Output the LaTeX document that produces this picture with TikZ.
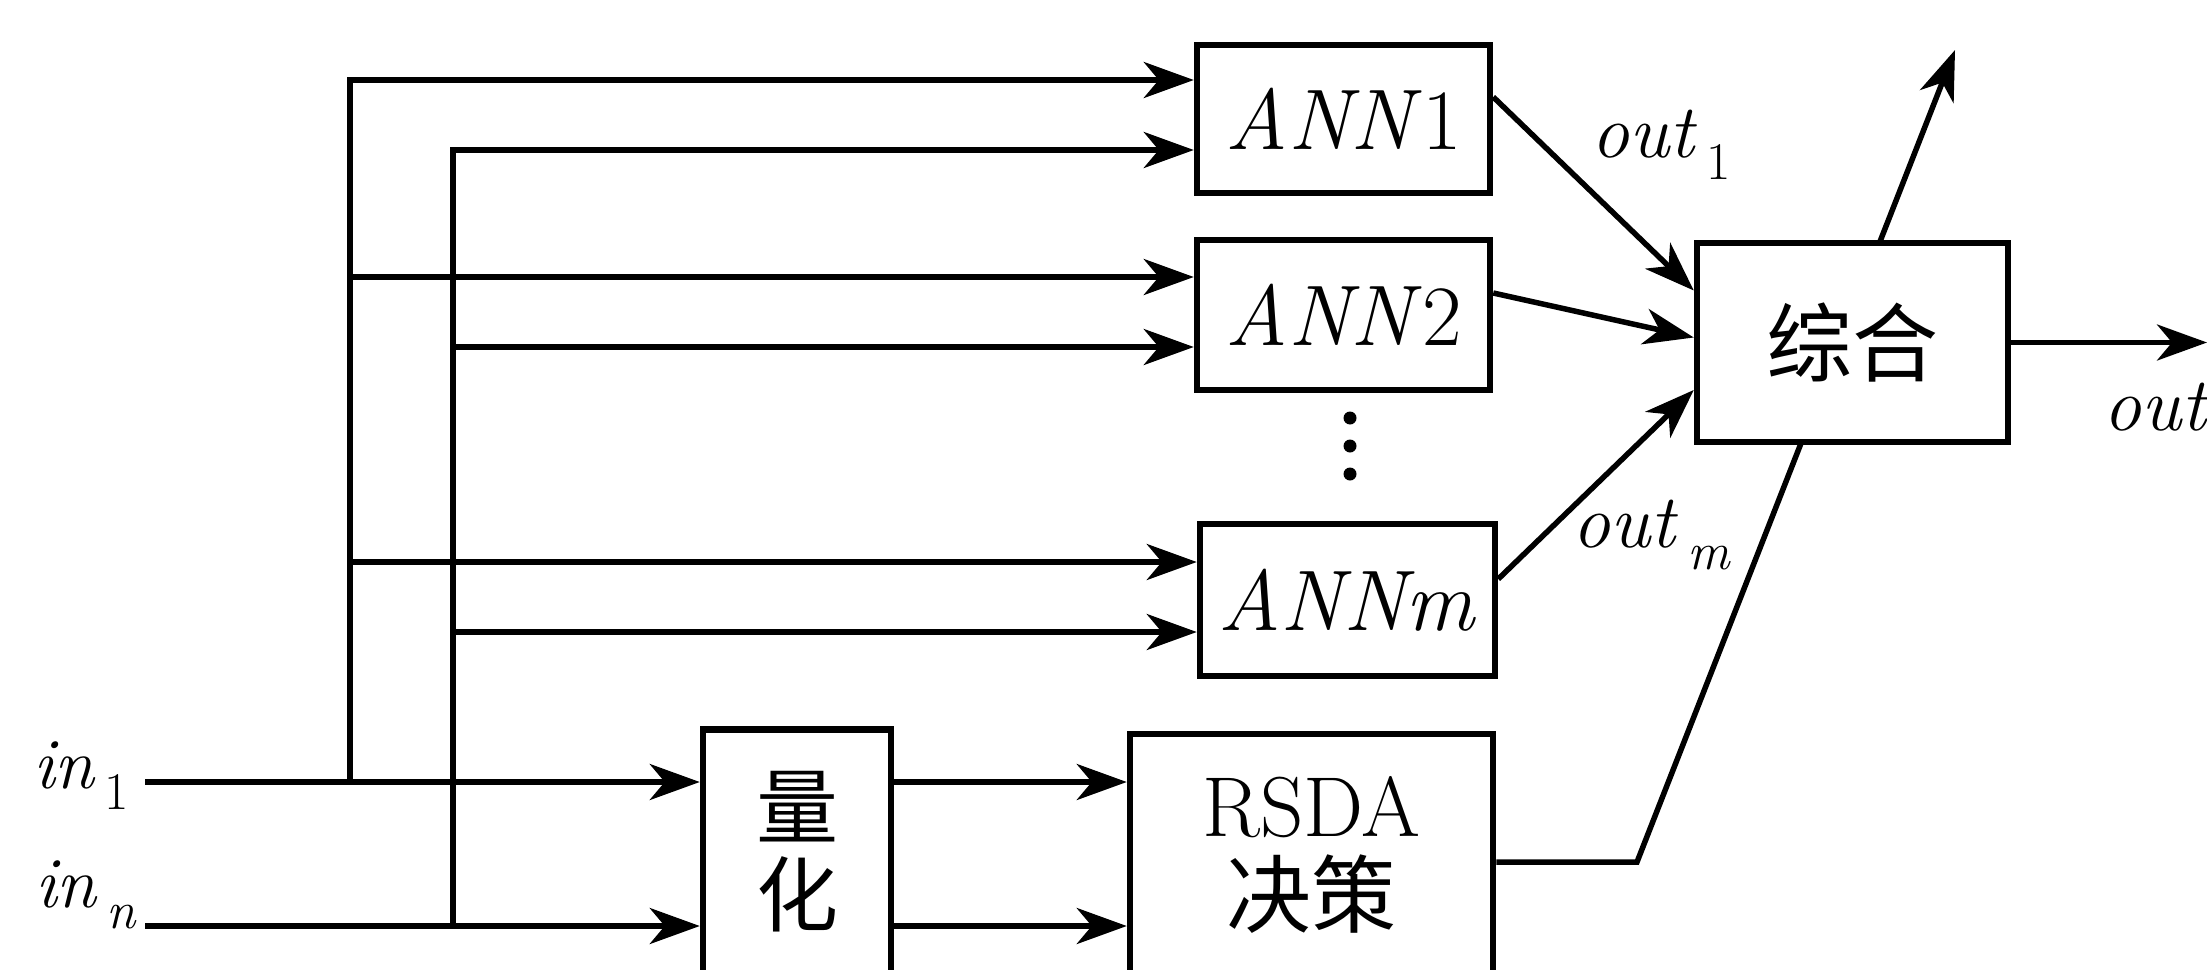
\documentclass[tikz,border=0pt]{standalone}
\usepackage{fontspec}
\newfontfamily\cjk{Noto Sans CJK SC}
\usetikzlibrary{arrows.meta,calc}
\newcommand\lsub[1]{\hspace{0.12em}\raisebox{-0.3em}{\fontsize{53}{56}\selectfont #1}}
\begin{document}
\begin{tikzpicture}[x=1pt,y=-1pt,
  box/.style={draw, line width=6.5pt, fill=white, inner sep=0pt},
  ln/.style={line width=5.5pt},
  arr/.style={ln, -{Stealth[length=50pt,width=36pt,inset=15pt]}},
  dotn/.style={circle, fill, inner sep=0pt, minimum size=13pt},
  lab/.style={inner sep=0pt, font=\fontsize{76}{80}\selectfont},
  annfont/.style={font=\fontsize{86}{90}\selectfont},
  cjkfont/.style={font=\cjk\fontsize{86}{90}\selectfont}
]
\useasboundingbox (0,0) rectangle (2207,969);
\clip (0,0) rectangle (2207,969);

% boxes
\node[box, annfont, minimum width=293pt, minimum height=148pt] (ANN1) at (1343.5,119) {\textit{ANN}1};
\node[box, annfont, minimum width=293pt, minimum height=150pt] (ANN2) at (1343.5,315) {\textit{ANN}2};
\node[box, annfont, minimum width=295pt, minimum height=152pt] (ANNm) at (1347.5,600) {\textit{ANNm}};
\node[dotn] (d1) at (1350,418) {};
\node[dotn] (d2) at (1350,446) {};
\node[dotn] (d3) at (1350,474) {};
\node[box, align=center, font=\cjk\fontsize{82}{88}\selectfont, minimum width=188pt, minimum height=245pt] (Q) at (797,852) {量\\化};
\node[box, align=center, font=\fontsize{85}{90}\selectfont, minimum width=363pt, minimum height=241pt] (R) at (1311.5,854.5) {RSDA\\{\cjk 决策}};

% RSDA decision line passing behind the combination box
\coordinate (rc) at (1637,862);
\coordinate (topTip) at (1955,50);
\draw[arr] ($(R.east)+(0,7.5)$) -- (rc) -- (topTip);

\node[box, cjkfont, minimum width=311pt, minimum height=199pt] (S) at (1852.5,342.5) {综合};

% input labels
\node[lab, font=\fontsize{72}{76}\selectfont, anchor=base west] (in1) at (33,788) {\textit{in}\lsub{1}};
\node[lab, font=\fontsize{72}{76}\selectfont, anchor=base west] (inn) at (35,907) {\textit{in}\lsub{\itshape n}};

% trunk coordinates
\coordinate (in1s) at (145,782);
\coordinate (inns) at (145,926);
\coordinate (JA) at (350,782);
\coordinate (JB) at (453,926);
\coordinate (Atop) at (350,80);
\coordinate (Btop) at (453,150);
\coordinate (A2) at (350,277);
\coordinate (B2) at (453,347);
\coordinate (Am) at (350,562);
\coordinate (Bm) at (453,632);

\draw[arr] (in1s) -- (in1s -| Q.west);
\draw[arr] (inns) -- (inns -| Q.west);
\draw[arr] (JA) -- (Atop) -- (Atop -| ANN1.west);
\draw[arr] (JB) -- (Btop) -- (Btop -| ANN1.west);
\draw[arr] (A2) -- (A2 -| ANN2.west);
\draw[arr] (B2) -- (B2 -| ANN2.west);
\draw[arr] (Am) -- (Am -| ANNm.west);
\draw[arr] (Bm) -- (Bm -| ANNm.west);

% quantize -> RSDA
\draw[arr] (in1s -| Q.east) -- (in1s -| R.west);
\draw[arr] (inns -| Q.east) -- (inns -| R.west);

% ANN outputs -> combination
\draw[arr] ($(ANN1.east)+(0,-22)$) -- ($(S.west)+(0,-52)$);
\draw[arr] ($(ANN2.east)+(0,-22)$) -- ($(S.west)+(0,-5)$);
\draw[arr] ($(ANNm.east)+(0,-21)$) -- ($(S.west)+(0,47.5)$);

% output
\coordinate (outTip) at (2207,342.5);
\draw[arr] (S.east) -- (outTip);

% labels
\node[lab, anchor=base west] (o1) at (1591,157) {\textit{out}\lsub{1}};
\node[lab, anchor=base west] (om) at (1572,547) {\textit{out}\lsub{\itshape m}};
\node[lab, anchor=base west] (oo) at (2103,430) {\textit{out}};
\end{tikzpicture}
\end{document}
